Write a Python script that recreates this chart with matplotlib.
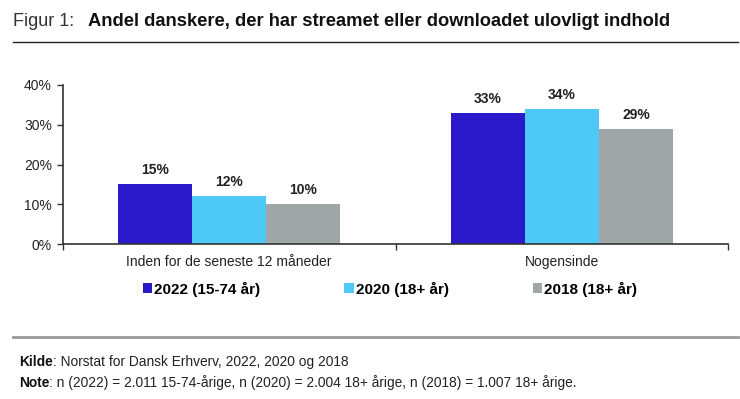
import matplotlib
matplotlib.use("Agg")
import matplotlib.pyplot as plt
from matplotlib.patches import Patch
from matplotlib.lines import Line2D
from matplotlib.text import Annotation
import numpy as np

categories = ["Inden for de seneste 12 måneder", "Nogensinde"]
series_names = ["2022 (15-74 år)", "2020 (18+ år)", "2018 (18+ år)"]
values_2022 = [15, 33]
values_2020 = [12, 34]
values_2018 = [10, 29]
colors = ["#2A1ACB", "#4EC9F6", "#A0A5A8"]
yticks = [0, 10, 20, 30, 40]
ytick_labels = ["0%", "10%", "20%", "30%", "40%"]

plt.rcParams['font.family'] = ['Liberation Sans', 'DejaVu Sans']

fig = plt.figure(figsize=(7.4, 3.99), dpi=100)
ax = fig.add_axes([63/740, 1-244/399, (728-63)/740, (244-85)/399])

x = np.arange(len(categories)) + 0.5
w = 0.223
for i, (vals, col) in enumerate(zip([values_2022, values_2020, values_2018], colors)):
    xs = x + (i - 1) * w
    ax.bar(xs, vals, width=w, color=col, label=series_names[i])
    for xi, v in zip(xs, vals):
        ax.annotate(f"{v}%", (xi, v), xytext=(0, 5), textcoords="offset points",
                    ha="center", va="bottom", fontsize=10, fontweight="bold", color="#222222")

ax.set_xlim(0, 2)
ax.set_ylim(0, 40)
ax.set_yticks(yticks)
ax.set_yticklabels(ytick_labels, fontsize=10, color="#222222")
ax.set_xticks([0, 1, 2])
ax.set_xticklabels([])
ax.set_xticks(x, minor=True)
ax.set_xticklabels(categories, minor=True, fontsize=10, color="#222222")
ax.tick_params(axis="x", which="minor", length=0, pad=8)
ax.tick_params(axis="x", which="major", length=4, color="#333333", width=1)
ax.tick_params(axis="y", length=4, color="#333333", width=1, pad=4)
for s in ["top", "right"]:
    ax.spines[s].set_visible(False)
for s in ["left", "bottom"]:
    ax.spines[s].set_color("#333333")
    ax.spines[s].set_linewidth(1.2)

handles = [Patch(facecolor=c) for c in colors]
fig.legend(handles, series_names, loc="center left", bbox_to_anchor=(129/740, 1-289/399),
           ncol=3, frameon=False, handlelength=0.6, handleheight=0.6, handletextpad=0.15,
           columnspacing=5.5, prop={'weight': 'bold', 'size': 11, 'family': ['Liberation Sans', 'DejaVu Sans']})

# Title
fig.text(13/740, 1-21/399, "Figur 1:", fontsize=13, va="center", ha="left", color="#333333")
fig.text(88/740, 1-21/399, "Andel danskere, der har streamet eller downloadet ulovligt indhold",
         fontsize=13.2, fontweight="bold", va="center", ha="left", color="#111111")
fig.add_artist(Line2D([13/740, 738/740], [1-42/399, 1-42/399], color="#222222", lw=1.0))
fig.add_artist(Line2D([13/740, 738/740], [1-337/399, 1-337/399], color="#999999", lw=2.0))

fs = 9.9
t1 = fig.text(19/740, 1-366/399, "Kilde", fontsize=fs, fontweight="bold", va="baseline", ha="left", color="#111111")
fig.add_artist(Annotation(": Norstat for Dansk Erhverv, 2022, 2020 og 2018",
                          xy=(1, 0), xycoords=t1, va="bottom", ha="left", fontsize=fs, color="#222222"))
t2 = fig.text(19/740, 1-387/399, "Note", fontsize=fs, fontweight="bold", va="baseline", ha="left", color="#111111")
fig.add_artist(Annotation(": n (2022) = 2.011 15-74-årige, n (2020) = 2.004 18+ årige, n (2018) = 1.007 18+ årige.",
                          xy=(1, 0), xycoords=t2, va="bottom", ha="left", fontsize=fs, color="#222222"))

fig.savefig("out.png", dpi=100)
